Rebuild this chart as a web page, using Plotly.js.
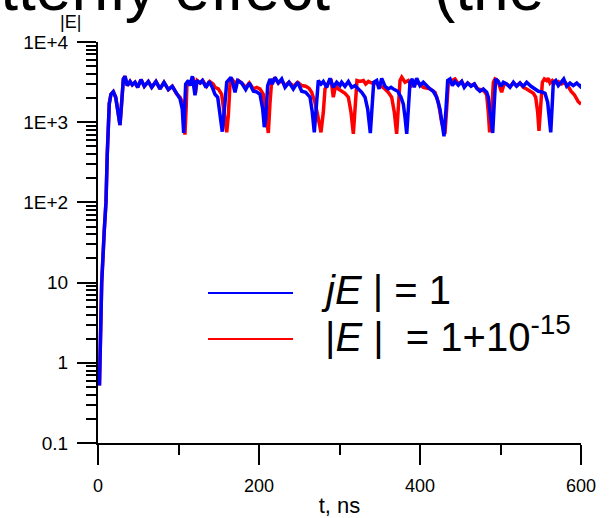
<!DOCTYPE html>
<html><head><meta charset="utf-8">
<script src="https://cdn.plot.ly/plotly-3.0.1.min.js"></script>
<style>html,body{margin:0;padding:0;background:#fff}#chart{width:611px;height:518px}</style>
</head><body><div id="chart"></div>
<script>
// ---- data ----
const tBlue = [1.8,2.3,4.6,7.8,9.9,11.5,12.8,14,16.1,19,22,25.2,27.3,29.4,31.5,33.5,36.4,39.8,42.6,46,49.3,53.4,57.5,62.5,66.7,72,77,82,87.4,92.3,97.7,101.9,104.7,106.4,108.9,112.2,114.3,117.2,120.5,122.6,126.7,129.6,134.2,138.3,142.5,145.3,148.7,151.6,154.4,157.8,159.9,162.7,165.2,168.1,170.2,173.5,178.5,183.5,188,193,197.1,201.2,204.6,206.6,208.3,210.8,213.7,216.5,219.9,224,228.2,232.3,237.3,242.6,248,253,258,263.4,266.2,268.7,271.7,273.7,277,279.9,284.1,288.2,292.3,296.5,300.6,302.7,306.8,311,315.1,319.3,323.4,327.6,331.7,335,338.3,340.8,342.5,346.2,349.1,352.4,356.5,360.6,364,368.1,372.3,376.4,379.3,381.4,383.5,385.5,387.6,390.4,392.9,395.9,400,404.1,408.3,412.4,416.5,420.7,424.8,427.7,429.8,432.3,434.4,437.3,440.2,443.5,447.6,451.8,455,459.2,463.4,467.5,470.4,474.5,478.6,482.8,484.9,487,489,490.3,492.3,494,497.3,500.6,503.5,507.7,511.8,516,520,524.2,528.3,532.5,537.9,542.9,547,551.2,555.3,558.6,560.7,562.4,564.4,565.6,568.6,571.8,575.2,578.5,582.2,586.3,590.4,594.7,598.8,600];
const eBlue = [0.52,1,10,45,100,400,1000,1700,2230,2400,2050,1330,920,1770,3460,3735,2860,3220,2920,3145,2720,3400,2805,3220,2720,3220,2600,3145,2550,2805,2250,1955,1460,733,2990,3310,2860,3735,2170,3310,3080,3310,2720,3220,2650,2230,2050,1330,762,1770,3145,3400,3630,2860,2360,3310,3080,2550,3080,2430,2390,2230,1460,867,1110,2860,3460,2990,3630,3080,3460,2720,3145,2600,3145,2430,2360,2050,1330,748,1770,3310,2990,3220,2720,3525,2720,3145,2860,3145,2805,3220,2720,2860,2600,2360,2050,1460,733,1600,3145,3310,2600,3525,2805,2600,2720,2550,2430,2050,1680,1150,715,1460,3145,3460,2720,3525,2860,3145,2805,2600,2430,2050,1460,900,667,1460,3310,3460,2860,3220,2900,3220,2720,3080,2805,2990,2650,2430,2600,2360,2050,1330,820,733,1770,3460,3220,2805,3145,2990,2720,3145,2805,3080,2805,3145,2805,2600,2430,2390,2290,1770,1110,748,1770,3145,3310,2860,3145,3460,2805,3080,2860,3080,2805,2990];

const tRed = [1.8,2.3,4.6,7.8,9.9,11.5,12.8,14,16.1,19,22,25.2,27.3,29.4,31.5,33.5,36.4,39.8,42.6,46,49.3,53.4,57.5,62.5,66.7,72,77,82,87.4,92.3,97.7,101.9,104.7,106.5,108,109.5,110.5,113,115,118,121,123.2,127.3,130.2,134.8,138.8,143.2,145.3,149.5,153.6,156.9,159.9,161.9,164,166.1,170.2,174.3,178.5,183.5,188,193,197.1,201.2,205.4,208.3,211.6,213.7,215.8,219.9,224,228.2,232.3,237.3,242.6,248,253,258,262.1,265.4,269.5,273.7,277,279.9,282,286.1,289.4,292.3,295.2,298.5,302.7,306.8,311,314.3,317.2,320.1,321.7,325.5,329.7,332.6,335.9,340,344.2,348.3,352.4,356.5,360.6,364.8,368.1,371,373,375.2,377.3,381.4,385.5,389.6,393.8,400,404.1,408.3,412.4,418.6,422.8,426.9,431,433.1,435.2,439.3,443.5,447.6,451.8,455,459.2,463.4,467.5,471.6,475.7,479.9,482.8,484.9,486.5,489,491.1,493.2,496.5,499.4,501.4,504.8,507.7,511.8,516,520,524.2,528.3,532.5,536.6,540.8,543.7,546.2,547.8,549.5,552,554.5,557.4,559.4,561.5,564.4,567.7,571.8,576,580.1,583.4,587.6,591.7,596.6,600];
const eRed = [0.52,1,10,45,100,400,1000,1700,2230,2400,2050,1330,920,1770,3460,3735,2860,3220,2920,3145,2720,3400,2805,3220,2720,3220,2600,3145,2550,2805,2250,2050,1800,1300,700,1500,2990,3310,2860,3600,2300,3310,3080,3310,2800,3220,2990,2720,2600,2230,1330,748,1210,2990,3460,3080,3310,3080,2720,3080,2600,2720,2600,2230,1330,733,1770,3310,3525,3080,3310,2860,3145,2805,3145,2860,2805,2650,2360,1770,1110,748,1330,2600,3080,3460,2050,2860,2600,2430,2290,2050,1330,715,2050,3310,3220,3310,2990,3220,3080,3145,2920,2805,2600,2360,2050,1330,715,1770,3310,3630,3145,3310,2860,3145,2990,2720,2650,2600,2360,1770,1000,715,1460,3145,3310,3460,2990,3220,2805,3080,2860,2990,2600,2550,2430,2200,1330,748,1330,3145,3460,3310,2720,2360,3080,2990,2805,3080,2860,3080,2720,2600,2430,2290,2050,1330,780,1330,3145,3460,3310,3525,3080,3310,3080,3220,2990,3145,2860,2430,2200,1800,1680];

const xTickVals = [0, 200, 400, 600];
const xMinorVals = [100, 300, 500];
const yTickVals = [0.1, 1, 10, 100, 1000, 10000];
const yTickText = ['0.1', '1', '10', '1E+2', '1E+3', '1E+4'];
const seriesNames = ['<i>jE</i> | = 1', '|<i>E</i> |  = 1+10<sup>-15</sup>'];
const titleParts = ['Butterfly effect', '(the'];
const yLabel = '|E|';
const xLabel = 't, ns';

// ---- geometry helpers ----
const W = 611, H = 518;
const L = 98, T = 42, PW = 483, PH = 401;
const px = x => (x - L) / PW;
const py = y => (T + PH - y) / PH;
const FONT = 'Arial, "Liberation Sans", sans-serif';

const yMinor = [];
for (let d = -1; d < 4; d++) for (let k = 2; k <= 9; k++) yMinor.push(k * Math.pow(10, d));

const traces = [
  {x: tRed, y: eRed, type: 'scatter', mode: 'lines', name: seriesNames[1],
   line: {color: '#ff0000', width: 3.5}, showlegend: false, hoverinfo: 'skip'},
  {x: tBlue, y: eBlue, type: 'scatter', mode: 'lines', name: seriesNames[0],
   line: {color: '#0000ff', width: 3.5}, showlegend: false, hoverinfo: 'skip'}
];

const axisCommon = {
  showline: true, linecolor: '#000', linewidth: 2, ticks: 'outside', tickwidth: 2,
  tickcolor: '#000', showgrid: false, zeroline: false
};

const layout = {
  width: W, height: H,
  margin: {l: L, r: W - L - PW, t: T, b: H - T - PH, pad: 0},
  paper_bgcolor: '#fff', plot_bgcolor: '#fff',
  showlegend: false,
  xaxis: Object.assign({}, axisCommon, {
    range: [0, 600], tickmode: 'array', tickvals: xTickVals, ticklen: 20, ticklabelstandoff: 5,
    tickfont: {family: FONT, size: 18, color: '#000'},
    minor: {tickmode: 'array', tickvals: xMinorVals, ticks: 'outside', ticklen: 10, tickwidth: 2, tickcolor: '#000', showgrid: false},
    title: {text: xLabel, font: {family: FONT, size: 22, color: '#000'}, standoff: 8}
  }),
  yaxis: Object.assign({}, axisCommon, {
    type: 'log', range: [-1, 4], tickmode: 'array', tickvals: yTickVals, ticktext: yTickText, ticklen: 19,
    ticklabelstandoff: 5,
    tickfont: {family: FONT, size: 19, color: '#000'},
    minor: {tickmode: 'array', tickvals: yMinor, ticks: 'outside', ticklen: 10, tickwidth: 2, tickcolor: '#000', showgrid: false}
  }),
  shapes: [
    {type: 'line', xref: 'paper', yref: 'paper', x0: px(208), x1: px(293), y0: py(293), y1: py(293), line: {color: '#0000ff', width: 2}},
    {type: 'line', xref: 'paper', yref: 'paper', x0: px(208), x1: px(293), y0: py(339), y1: py(339), line: {color: '#ff0000', width: 2}}
  ],
  annotations: [
    {text: titleParts[0], xref: 'paper', yref: 'paper', x: px(-80), y: py(-12), xanchor: 'left', yanchor: 'middle', showarrow: false, font: {family: FONT, size: 64, color: '#000'}},
    {text: titleParts[1], xref: 'paper', yref: 'paper', x: px(432), y: py(-12), xanchor: 'left', yanchor: 'middle', showarrow: false, font: {family: FONT, size: 64, color: '#000'}},
    {text: yLabel, xref: 'paper', yref: 'paper', x: px(70), y: py(22), xanchor: 'center', yanchor: 'middle', showarrow: false, font: {family: FONT, size: 18, color: '#000'}},
    {text: seriesNames[0], xref: 'paper', yref: 'paper', x: px(319), y: py(290), xanchor: 'left', yanchor: 'middle', showarrow: false, font: {family: FONT, size: 40, color: '#000'}},
    {text: seriesNames[1], xref: 'paper', yref: 'paper', x: px(323), y: py(334), xanchor: 'left', yanchor: 'middle', showarrow: false, font: {family: FONT, size: 40, color: '#000'}}
  ]
};

Plotly.newPlot('chart', traces, layout, {staticPlot: true, displayModeBar: false});
</script>
</body></html>
